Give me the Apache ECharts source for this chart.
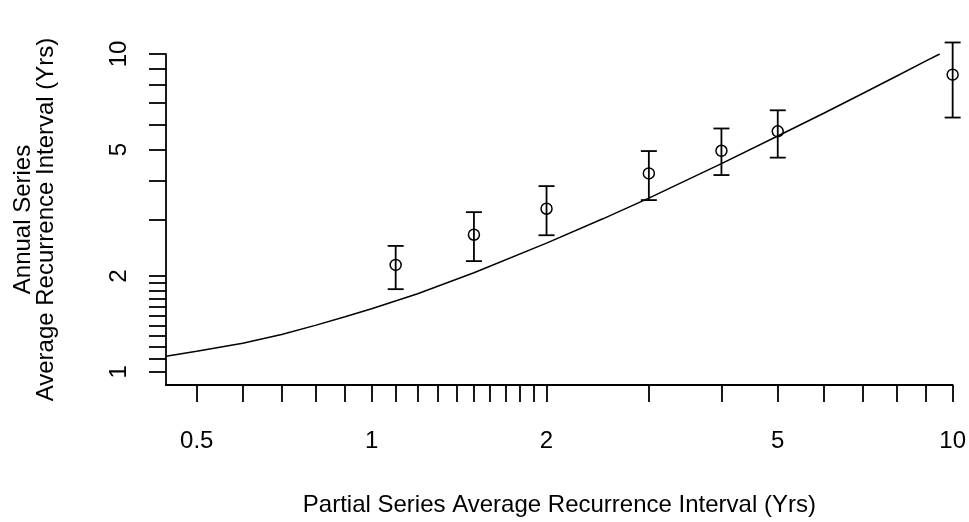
<!DOCTYPE html>
<html>
<head>
<meta charset="utf-8">
<script src="https://cdn.jsdelivr.net/npm/echarts@6/dist/echarts.min.js"></script>
<style>
html,body{margin:0;padding:0;background:#fff;}
#c{width:969px;height:522px;}
</style>
</head>
<body>
<div id="c"></div>
<script>
// Observed points (partial series ARI vs annual series ARI) with interval bounds
const pointX  = [1.1, 1.5, 2, 3, 4, 5, 10];
const pointY  = [2.17, 2.70, 3.26, 4.21, 4.96, 5.71, 8.61];
const pointLo = [1.82, 2.23, 2.69, 3.47, 4.16, 4.72, 6.31];
const pointHi = [2.49, 3.18, 3.84, 4.95, 5.83, 6.65, 10.87];

// Reference curve
const curveX = [0.4427, 0.5, 0.6, 0.7, 0.8, 0.9, 1.0, 1.2, 1.5, 2.0, 2.5, 3.0, 4.0, 5.0, 6.0, 7.0, 8.0, 9.0, 9.5];
const curveY = [1.12, 1.16, 1.23, 1.31, 1.40, 1.49, 1.58, 1.76, 2.05, 2.54, 3.03, 3.52, 4.52, 5.52, 6.51, 7.51, 8.51, 9.51, 10.0];

// Axis ticks and labels
const xTicks  = [0.5,0.6,0.7,0.8,0.9,1,1.1,1.2,1.3,1.4,1.5,1.6,1.7,1.8,1.9,2,3,4,5,6,7,8,9,10];
const xLabels = [0.5, 1, 2, 5, 10];
const yTicks  = [1,1.1,1.2,1.3,1.4,1.5,1.6,1.7,1.8,1.9,2,3,4,5,6,7,8,9,10];
const yLabels = [1, 2, 5, 10];

const xTitle = 'Partial Series Average Recurrence Interval (Yrs)';
const yTitle = 'Annual Series\nAverage Recurrence Interval (Yrs)';

const FONT = "'Liberation Sans', Arial, sans-serif";

const chart = echarts.init(document.getElementById('c'), null, {renderer: 'canvas'});

const curveData = curveX.map((x, i) => [x, curveY[i]]);
const pointData = pointX.map((x, i) => [x, pointY[i], pointLo[i], pointHi[i]]);

chart.setOption({
  animation: false,
  backgroundColor: '#fff',
  grid: {left: 166, right: 15.7, top: 54, bottom: 133.7, containLabel: false},
  xAxis: {
    type: 'log',
    logBase: 10,
    min: 0.4427,
    max: 10,
    name: xTitle,
    nameLocation: 'middle',
    nameGap: 108,
    nameTextStyle: {fontFamily: FONT, fontSize: 24, color: '#000', lineHeight: 24},
    axisLine: {show: true, lineStyle: {color: '#000', width: 1.8}},
    axisTick: {show: true, length: 17, inside: false, customValues: xTicks, lineStyle: {color: '#000', width: 1.8}},
    axisLabel: {
      show: true, customValues: xLabels, margin: 44,
      fontFamily: FONT, fontSize: 24, color: '#000', lineHeight: 24,
      formatter: v => String(+v.toPrecision(6))
    },
    splitLine: {show: false},
    minorTick: {show: false}
  },
  yAxis: {
    type: 'log',
    logBase: 10,
    min: 0.909,
    max: 10,
    name: yTitle,
    nameLocation: 'middle',
    nameGap: 108,
    nameRotate: 90,
    nameTextStyle: {fontFamily: FONT, fontSize: 24, color: '#000', lineHeight: 23, align: 'center'},
    axisLine: {show: true, lineStyle: {color: '#000', width: 1.8}},
    axisTick: {show: true, length: 17, customValues: yTicks, lineStyle: {color: '#000', width: 1.8}},
    axisLabel: {
      show: true, customValues: yLabels, margin: 35, rotate: 90,
      fontFamily: FONT, fontSize: 24, color: '#000', lineHeight: 24,
      formatter: v => String(+v.toPrecision(6))
    },
    splitLine: {show: false},
    minorTick: {show: false}
  },
  series: [
    {
      type: 'line',
      data: curveData,
      showSymbol: false,
      symbol: 'none',
      lineStyle: {color: '#000', width: 1.5},
      silent: true,
      z: 2
    },
    {
      type: 'custom',
      data: pointData,
      clip: false,
      z: 3,
      renderItem: function (params, api) {
        const x = api.value(0);
        const c = api.coord([x, api.value(1)]);
        const lo = api.coord([x, api.value(2)]);
        const hi = api.coord([x, api.value(3)]);
        const hw = 8;
        const st = {stroke: '#000', lineWidth: 1.8, fill: null};
        return {
          type: 'group',
          children: [
            {type: 'line', shape: {x1: lo[0], y1: lo[1], x2: hi[0], y2: hi[1]}, style: st},
            {type: 'line', shape: {x1: hi[0] - hw, y1: hi[1], x2: hi[0] + hw, y2: hi[1]}, style: st},
            {type: 'line', shape: {x1: lo[0] - hw, y1: lo[1], x2: lo[0] + hw, y2: lo[1]}, style: st},
            {type: 'circle', shape: {cx: c[0], cy: c[1], r: 5.5}, style: {stroke: '#000', lineWidth: 1.5, fill: 'none'}}
          ]
        };
      }
    }
  ]
});
</script>
</body>
</html>
